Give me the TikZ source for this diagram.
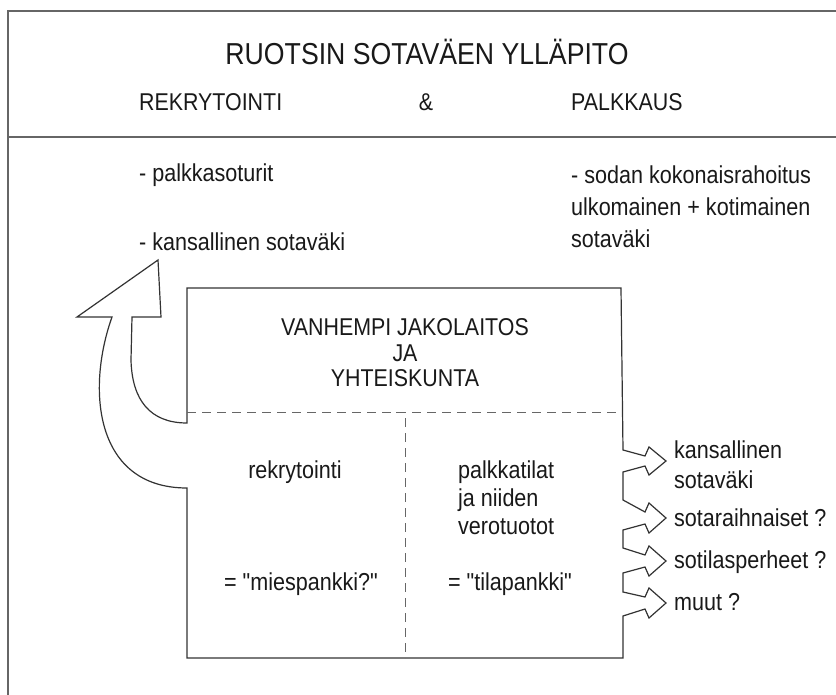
\documentclass[tikz,border=0pt]{standalone}
\usepackage{fontspec}
\setmainfont{Liberation Sans}[FakeStretch=0.88, Ligatures=TeXOff]
\begin{document}
\begin{tikzpicture}[x=1pt,y=-1pt,
  frame/.style={draw=black!60, line width=1.3pt},
  outline/.style={draw=black!80, line width=1.2pt, line join=miter},
  divider/.style={draw=black!60, line width=1pt, dash pattern=on 9pt off 6pt},
  txt/.style={inner sep=0pt, font=\fontsize{24.5}{28}\selectfont, text=black!90},
  caps/.style={inner sep=0pt, font=\fontsize{24.3}{28}\selectfont, text=black!90},
  head/.style={inner sep=0pt, font=\fontsize{24.3}{28}\selectfont, text=black!90},
  titl/.style={inner sep=0pt, font=\fontsize{30.3}{34}\selectfont, text=black!90}]
\useasboundingbox (0,0) rectangle (836,695);
\fill[white] (0,0) rectangle (836,695);
% outer frame
\draw[frame] (836,11) -- (8,11) -- (8,695);
\draw[frame] (8,137) -- (836,137);
% headings
\node[titl] (title) at (427,52) {RUOTSIN SOTAVÄEN YLLÄPITO};
\node[head, anchor=west] (rek) at (139,102) {REKRYTOINTI};
\node[head] (amp) at (426,102) {\&};
\node[head, anchor=west] (palk) at (571,102) {PALKKAUS};
% upper texts
\node[txt, anchor=west] (ps) at (139,175) {- palkkasoturit};
\node[txt, anchor=west] (ks) at (139,242) {- kansallinen sotaväki};
\node[txt, anchor=west] (r1) at (571,175) {- sodan kokonaisrahoitus};
\node[txt, anchor=west] (r2) at (571,207) {ulkomainen + kotimainen};
\node[txt, anchor=west] (r3) at (571,239) {sotaväki};
% main outline: box, curved arrow, right arrows
\draw[outline]
  (621,288) -- (623,450)
  -- (645,456) -- (649,447) -- (666,461) -- (649,475) -- (645,466) -- (623,472)
  -- (623,500)
  -- (645,512) -- (649,503) -- (666,518) -- (649,533) -- (645,524) -- (623,530)
  -- (623,548)
  -- (645,555) -- (649,546) -- (666,561) -- (649,576) -- (645,567) -- (623,573)
  -- (623,592)
  -- (645,597) -- (649,588) -- (666,603) -- (649,618) -- (645,609) -- (623,616)
  -- (623,658) -- (187,658) -- (187,488)
  .. controls (95,488) and (86,390) .. (112,317)
  -- (77,317) -- (158,260) -- (161,317) -- (132,317)
  -- (131,360) .. controls (132,400) and (150,423) .. (187,423)
  -- (187,288) -- cycle;
% dashed dividers
\draw[divider] (187,412) -- (621,412);
\draw[divider] (396,412) -- (405,412) -- (405,658);
% box texts
\node[caps] (v1) at (405,327) {VANHEMPI JAKOLAITOS};
\node[caps] (v2) at (405,353) {JA};
\node[caps] (v3) at (405,378) {YHTEISKUNTA};
\node[txt] (rk) at (295,472) {rekrytointi};
\node[txt, anchor=west] (p1) at (458,472) {palkkatilat};
\node[txt, anchor=west] (p2) at (458,500) {ja niiden};
\node[txt, anchor=west] (p3) at (458,527) {verotuotot};
\node[txt] (mp) at (301,584) {= "miespankki?"};
\node[txt] (tp) at (510,584) {= "tilapankki"};
% right labels
\node[txt, anchor=west] (l1) at (674,450) {kansallinen};
\node[txt, anchor=west] (l2) at (674,480) {sotaväki};
\node[txt, anchor=west] (l3) at (674,518) {sotaraihnaiset ?};
\node[txt, anchor=west] (l4) at (674,562) {sotilasperheet ?};
\node[txt, anchor=west] (l5) at (674,602) {muut ?};
\end{tikzpicture}
\end{document}
